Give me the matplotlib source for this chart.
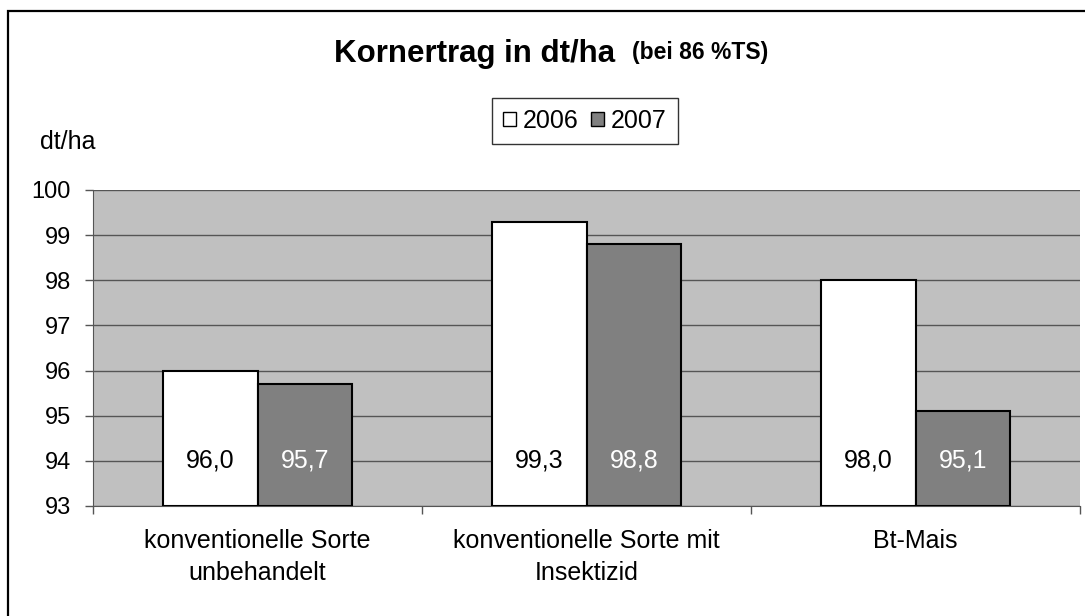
import matplotlib.pyplot as plt
from matplotlib.patches import Rectangle
import numpy as np

plt.rcParams['font.family'] = ['Liberation Sans', 'DejaVu Sans']

categories = ["konventionelle Sorte\nunbehandelt", "konventionelle Sorte mit\nInsektizid", "Bt-Mais"]
years = ["2006", "2007"]
values_2006 = [96.0, 99.3, 98.0]
values_2007 = [95.7, 98.8, 95.1]
yticks = [93, 94, 95, 96, 97, 98, 99, 100]

W, H = 1085, 616
fig = plt.figure(figsize=(W / 100, H / 100), dpi=100)

# outer chart frame (only top/left visible in the original)
fig.patches.append(Rectangle((8 / W, -0.1), 1.2, (616 - 11) / H + 0.1, transform=fig.transFigure,
                             fill=False, edgecolor="black", linewidth=1.6))

ax = fig.add_axes([93 / W, (H - 506) / H, (1080 - 93) / W, (506 - 190) / H])
ax.set_facecolor("#C0C0C0")

x = np.arange(len(categories))
bw = 0.288
b1 = ax.bar(x - bw / 2, [v - 93 for v in values_2006], bw, bottom=93, color="white",
            edgecolor="black", linewidth=1.5, label=years[0], zorder=3)
b2 = ax.bar(x + bw / 2, [v - 93 for v in values_2007], bw, bottom=93, color="#808080",
            edgecolor="black", linewidth=1.5, label=years[1], zorder=3)

for i in range(len(categories)):
    ax.text(x[i] - bw / 2, 94, f"{values_2006[i]:.1f}".replace(".", ","), ha="center", va="center",
            fontsize=18, color="black", zorder=4)
    ax.text(x[i] + bw / 2, 94, f"{values_2007[i]:.1f}".replace(".", ","), ha="center", va="center",
            fontsize=18, color="white", zorder=4)

ax.set_xlim(-0.5, 2.5)
ax.set_ylim(93, 100)
ax.set_yticks(yticks)
ax.set_yticklabels([str(t) for t in yticks], fontsize=17)
ax.yaxis.grid(True, color="#555555", linewidth=1.0, zorder=1)
ax.set_axisbelow(True)
ax.tick_params(axis="y", length=6, width=1, color="#555555", pad=10)

ax.set_xticks([-0.5, 0.5, 1.5, 2.5])
ax.set_xticklabels([])
ax.tick_params(axis="x", length=6, width=1, color="#555555")
for i, c in enumerate(categories):
    ax.text(x[i], 92.48, c, ha="center", va="top", fontsize=18, linespacing=1.42)

for s in ["top", "right"]:
    ax.spines[s].set_visible(False)
ax.spines["left"].set_color("#555555")
ax.spines["bottom"].set_color("#555555")

fig.text(615 / W, 1 - 54 / H, "Kornertrag in dt/ha", ha="right", va="center",
         fontsize=22.5, fontweight="bold")
fig.text(632 / W, 1 - 53 / H, "(bei 86 %TS)", ha="left", va="center",
         fontsize=16.5, fontweight="bold")
fig.text(40 / W, 1 - 142 / H, "dt/ha", ha="left", va="center", fontsize=18)

leg = fig.legend(handles=[b1, b2], labels=years, loc="center", bbox_to_anchor=(585 / W, 1 - 121 / H),
                 ncol=2, fontsize=18, frameon=True, fancybox=False, edgecolor="black",
                 handlelength=0.5, handleheight=0.5, handletextpad=0.3, columnspacing=0.5,
                 borderpad=0.45, borderaxespad=0)
leg.get_frame().set_linewidth(1.0)
for h in leg.legend_handles:
    h.set_linewidth(1.0)

fig.savefig("out.png", dpi=100)
